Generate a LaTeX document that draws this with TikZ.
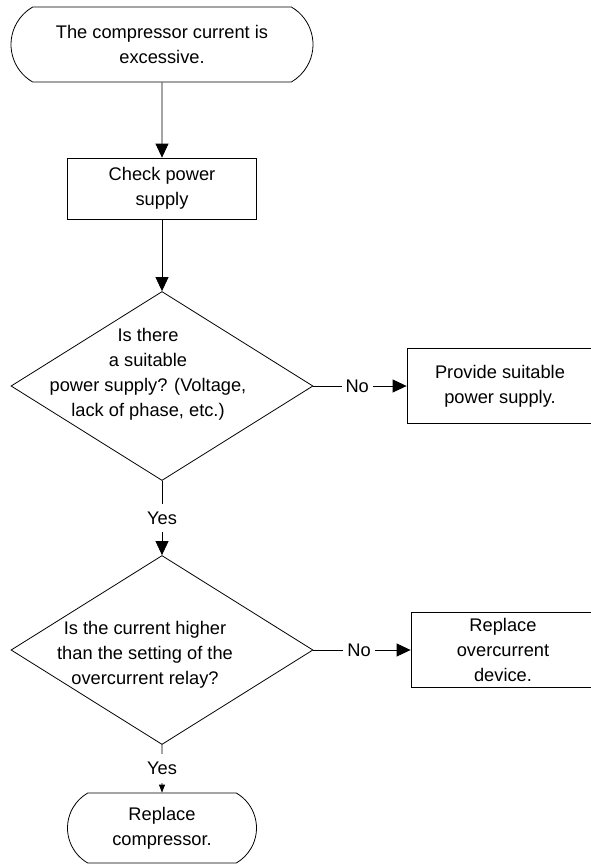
\documentclass[tikz,border=0pt]{standalone}
\usepackage{fontspec}
\setmainfont{Liberation Sans}
\usetikzlibrary{shapes,arrows.meta,positioning}

\begin{document}
\begin{tikzpicture}[x=0.75pt, y=-0.75pt, font=\fontsize{13.7}{18.75}\selectfont]
\tikzstyle{terminal} = [rounded rectangle, rounded rectangle arc length=120, draw, line width=0.6pt, align=center, inner sep=0pt]
\tikzstyle{process} = [rectangle, draw, line width=0.6pt, align=center, inner sep=0pt]
\tikzstyle{decision} = [diamond, draw, line width=0.6pt, inner sep=0pt, minimum width=226.5pt, minimum height=141.75pt]
\tikzstyle{question} = [align=center, inner sep=0pt]
\tikzstyle{arrow} = [line width=0.6pt, -{Triangle[length=10.5pt, width=9.75pt]}]
\tikzstyle{answer} = [fill=white, inner xsep=3pt, inner ysep=6pt]

\useasboundingbox (0,0) rectangle (591,865);

\node[terminal, minimum width=226.5pt, minimum height=56.25pt] (start) at (162,44.5) {The compressor current is\\excessive.};
\node[process, minimum width=141.75pt, minimum height=45.75pt] (check) at (162,188.5) {Check power\\supply};
\node[decision] (q1) at (162,386) {};
\node[question] (q1text) at (148,374) {Is there\\a suitable\\power supply? (Voltage,\\lack of phase, etc.)};
\node[process, minimum width=139.5pt, minimum height=56.25pt] (act1) at (500,386) {Provide suitable\\power supply.};
\node[decision] (q2) at (162,650) {};
\node[question] (q2text) at (145,655) {Is the current higher\\than the setting of the\\overcurrent relay?};
\node[process, minimum width=138pt, minimum height=56.25pt] (act2) at (503,650) {Replace\\overcurrent\\device.};
\node[terminal, minimum width=141.75pt, minimum height=52.5pt] (finish) at (162,828) {Replace\\compressor.};

\draw[arrow] (start) -- (check);
\draw[arrow] (check) -- (q1);
\draw[arrow] (q1) -- node[answer] {Yes} (q2);
\draw[arrow] (q1.east) -- node[answer, pos=0.47] {No} (q1.east -| act1.west);
\draw[arrow] (q2.east) -- node[answer, pos=0.47] {No} (q2.east -| act2.west);
\draw[line width=0.6pt, -{Triangle[length=6pt, width=4.5pt]}] (q2) -- node[answer] {Yes} (finish);
\end{tikzpicture}
\end{document}
